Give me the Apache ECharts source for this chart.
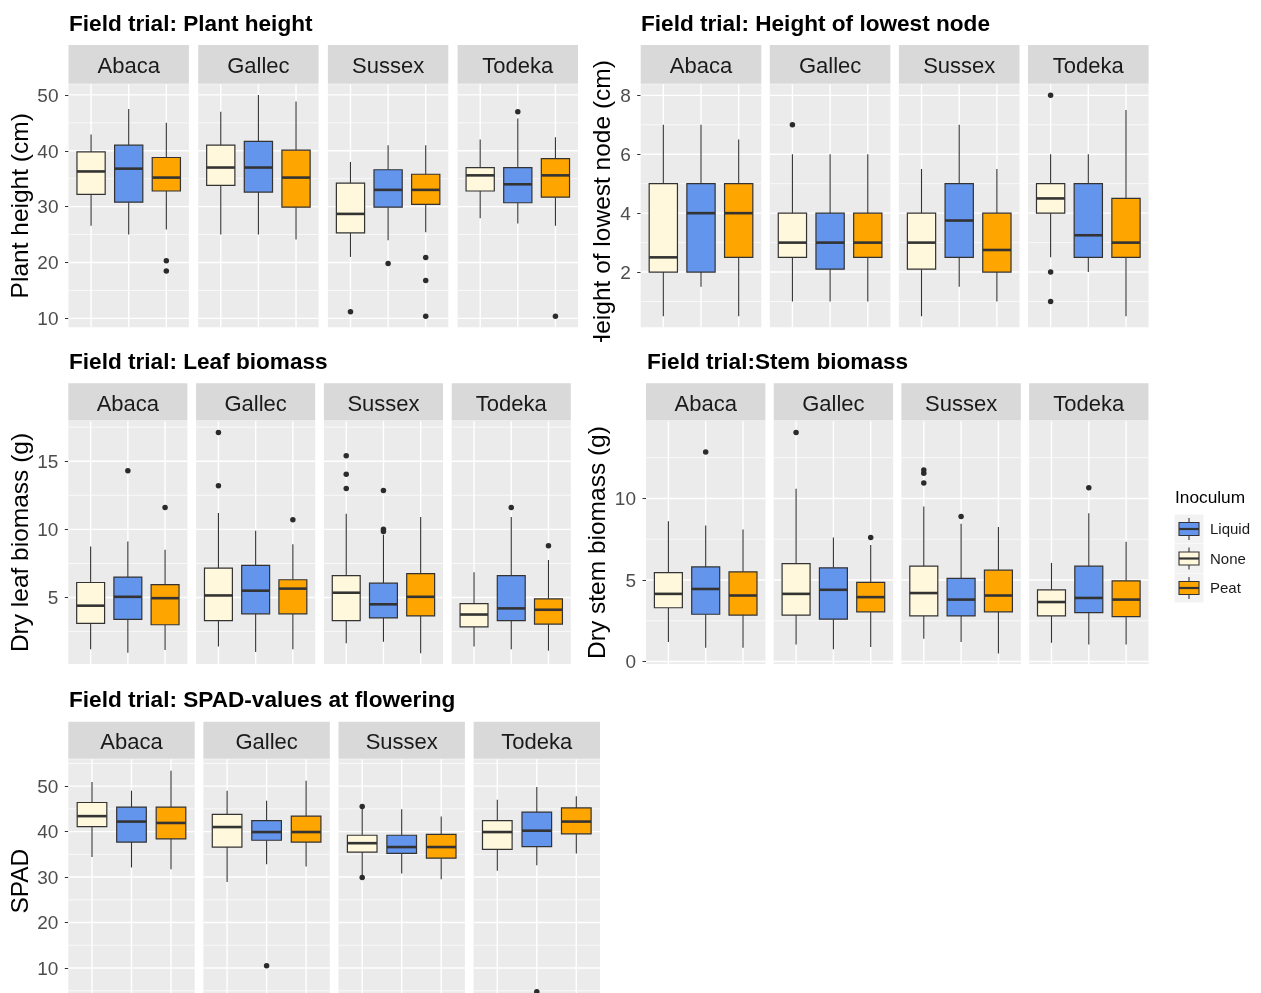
<!DOCTYPE html>
<html>
<head>
<meta charset="utf-8">
<script src="https://cdn.jsdelivr.net/npm/echarts@6/dist/echarts.min.js"></script>
<style>
  html, body { margin: 0; padding: 0; background: #ffffff; }
  #chart { width: 1261px; height: 993px; }
</style>
</head>
<body>
<div id="chart"></div>
<script>
// ---- Data -------------------------------------------------------------
const facetNames = ['Abaca', 'Gallec', 'Sussex', 'Todeka'];
const inoculumOrder = ['None', 'Liquid', 'Peat'];     // left to right inside each facet
const legendOrder = ['Liquid', 'None', 'Peat'];

// Box statistics: [lower whisker, Q1, median, Q3, upper whisker], per facet x inoculum
const plantHeightBoxes = [
  [[26.6, 32.2, 36.3, 39.8, 42.9], [25.0, 30.8, 36.8, 41.0, 47.5], [25.9, 32.8, 35.2, 38.8, 45.0]],
  [[25.0, 33.8, 37.0, 41.0, 47.0], [25.0, 32.6, 37.0, 41.7, 50.0], [24.1, 29.9, 35.2, 40.1, 48.8]],
  [[21.0, 25.3, 28.7, 34.2, 38.0], [24.0, 29.9, 33.0, 36.6, 41.0], [25.4, 30.4, 33.0, 35.8, 41.0]],
  [[27.9, 32.8, 35.6, 37.0, 42.0], [27.0, 30.7, 34.0, 37.0, 45.8], [26.6, 31.7, 35.6, 38.6, 42.4]]
];
const plantHeightOutliers = [
  [[], [], [20.3, 18.5]],
  [[], [], []],
  [[11.2], [19.8], [20.9, 16.8, 10.4]],
  [[], [47.0], [10.4]]
];
const plantHeightTicks = [10, 20, 30, 40, 50];

const nodeHeightBoxes = [
  [[0.5, 2.0, 2.5, 5.0, 7.0], [1.5, 2.0, 4.0, 5.0, 7.0], [0.5, 2.5, 4.0, 5.0, 6.5]],
  [[1.0, 2.5, 3.0, 4.0, 6.0], [1.0, 2.1, 3.0, 4.0, 6.0], [1.0, 2.5, 3.0, 4.0, 6.0]],
  [[0.5, 2.1, 3.0, 4.0, 5.5], [1.5, 2.5, 3.75, 5.0, 7.0], [1.0, 2.0, 2.75, 4.0, 5.5]],
  [[2.5, 4.0, 4.5, 5.0, 6.0], [2.0, 2.5, 3.25, 5.0, 6.0], [0.5, 2.5, 3.0, 4.5, 7.5]]
];
const nodeHeightOutliers = [
  [[], [], []],
  [[7.0], [], []],
  [[], [], []],
  [[8.0, 2.0, 1.0], [], []]
];
const nodeHeightTicks = [2, 4, 6, 8];

const leafBiomassBoxes = [
  [[1.2, 3.1, 4.4, 6.1, 8.75], [0.95, 3.4, 5.05, 6.5, 9.1], [1.15, 3.0, 4.95, 5.95, 8.5]],
  [[1.4, 3.3, 5.15, 7.15, 11.2], [1.0, 3.8, 5.5, 7.35, 9.9], [1.2, 3.8, 5.65, 6.3, 8.9]],
  [[1.65, 3.3, 5.35, 6.6, 11.15], [1.75, 3.5, 4.5, 6.05, 9.6], [0.9, 3.65, 5.05, 6.75, 10.9]],
  [[1.4, 2.85, 3.75, 4.55, 6.85], [1.2, 3.3, 4.2, 6.6, 10.9], [1.1, 3.05, 4.1, 4.9, 7.75]]
];
const leafBiomassOutliers = [
  [[], [14.3], [11.6]],
  [[17.1, 13.2], [], [10.7]],
  [[15.4, 14.05, 13.0], [12.85, 10.0, 9.85], []],
  [[], [11.6], [8.8]]
];
const leafBiomassTicks = [5, 10, 15];

const stemBiomassBoxes = [
  [[1.2, 3.3, 4.15, 5.45, 8.6], [0.85, 2.9, 4.45, 5.8, 8.35], [0.85, 2.85, 4.05, 5.5, 8.1]],
  [[1.05, 2.85, 4.15, 6.0, 10.6], [0.75, 2.6, 4.4, 5.75, 7.6], [0.9, 3.05, 3.95, 4.85, 7.15]],
  [[1.4, 2.8, 4.2, 5.85, 9.5], [1.2, 2.8, 3.8, 5.1, 8.45], [0.5, 3.05, 4.05, 5.6, 8.25]],
  [[1.15, 2.8, 3.65, 4.4, 6.05], [1.05, 3.0, 3.9, 5.85, 9.1], [1.05, 2.75, 3.8, 4.95, 7.35]]
];
const stemBiomassOutliers = [
  [[], [12.85], []],
  [[14.05], [], [7.6]],
  [[11.75, 11.55, 10.95], [8.9], []],
  [[], [10.65], []]
];
const stemBiomassTicks = [0, 5, 10];

const spadBoxes = [
  [[34.4, 41.1, 43.4, 46.4, 50.9], [32.1, 37.7, 42.2, 45.4, 49.0], [31.7, 38.4, 41.9, 45.4, 53.4]],
  [[28.9, 36.6, 41.0, 43.8, 49.0], [32.8, 38.1, 39.9, 42.4, 46.8], [32.3, 37.7, 39.9, 43.4, 51.2]],
  [[30.4, 35.5, 37.45, 39.2, 45.0], [30.8, 35.2, 36.6, 39.2, 44.9], [29.5, 34.15, 36.6, 39.4, 43.3]],
  [[31.4, 36.1, 39.9, 42.4, 47.0], [32.6, 36.7, 40.2, 44.3, 49.8], [35.2, 39.5, 42.2, 45.2, 47.8]]
];
const spadOutliers = [
  [[], [], []],
  [[], [10.5], []],
  [[45.5, 29.9], [], []],
  [[], [4.8], []]
];
const spadTicks = [10, 20, 30, 40, 50];

// ---- Styling & layout -------------------------------------------------
const FONT = '"Liberation Sans", Arial, Helvetica, sans-serif';
const fillColors = { None: '#FFF8DC', Liquid: '#6495ED', Peat: '#FFA500' };
const INK = '#333333';

const panels = [
  { title: 'Field trial: Plant height', yName: 'Plant height (cm)',
    boxes: plantHeightBoxes, outliers: plantHeightOutliers, ticks: plantHeightTicks, range: [8.4, 51.9],
    titleX: 69, titleY: 25, left: 68.5, width: 120.4, gap: 9.3, stripTop: 45, top: 84.3, height: 243, nameGap: 32 },
  { title: 'Field trial: Height of lowest node', yName: 'Height of lowest node (cm)',
    boxes: nodeHeightBoxes, outliers: nodeHeightOutliers, ticks: nodeHeightTicks, range: [0.125, 8.375],
    titleX: 641, titleY: 25, left: 640.7, width: 120.6, gap: 8.5, stripTop: 45, top: 84.3, height: 243, nameGap: 22 },
  { title: 'Field trial: Leaf biomass', yName: 'Dry leaf biomass (g)',
    boxes: leafBiomassBoxes, outliers: leafBiomassOutliers, ticks: leafBiomassTicks, range: [0.12, 17.95],
    titleX: 69, titleY: 363, left: 68.3, width: 119.1, gap: 8.7, stripTop: 383.3, top: 421, height: 243, nameGap: 32 },
  { title: 'Field trial:Stem biomass', yName: 'Dry stem biomass (g)',
    boxes: stemBiomassBoxes, outliers: stemBiomassOutliers, ticks: stemBiomassTicks, range: [-0.15, 14.75],
    titleX: 647, titleY: 363, left: 646, width: 119.4, gap: 8.3, stripTop: 383.3, top: 421, height: 243, nameGap: 32 },
  { title: 'Field trial: SPAD-values at flowering', yName: 'SPAD',
    boxes: spadBoxes, outliers: spadOutliers, ticks: spadTicks, range: [2.3, 55.9],
    titleX: 69, titleY: 701, left: 68.3, width: 126.4, gap: 8.7, stripTop: 721.7, top: 759.3, height: 243.7, nameGap: 32 }
];

// Minor breaks sit halfway between major breaks (one step beyond each end too)
function minorBreaks(ticks, range) {
  const step = ticks[1] - ticks[0];
  const out = [];
  for (let v = ticks[0] - step / 2; v <= ticks[ticks.length - 1] + step; v += step) {
    if (v > range[0] && v < range[1]) out.push(v);
  }
  return out;
}

function renderGridLine(params, api) {
  const cs = params.coordSys;
  const kind = api.value(2);
  if (kind === 2) {
    const px = api.coord([api.value(0), api.value(1)])[0];
    return { type: 'line', silent: true,
      shape: { x1: px, y1: cs.y, x2: px, y2: cs.y + cs.height },
      style: { stroke: '#FFFFFF', lineWidth: 1.4 } };
  }
  const py = api.coord([api.value(0), api.value(1)])[1];
  return { type: 'line', silent: true,
    shape: { x1: cs.x, y1: py, x2: cs.x + cs.width, y2: py },
    style: { stroke: '#FFFFFF', lineWidth: kind === 0 ? 1.4 : 0.7 } };
}

function renderBox(params, api) {
  const x = api.value(0);
  const lo = api.coord([x, api.value(1)]);
  const q1 = api.coord([x, api.value(2)]);
  const md = api.coord([x, api.value(3)]);
  const q3 = api.coord([x, api.value(4)]);
  const hi = api.coord([x, api.value(5)]);
  const half = api.size([0.75, 0])[0] / 2;
  const fill = fillColors[inoculumOrder[api.value(6)]];
  const cx = lo[0];
  return {
    type: 'group',
    children: [
      { type: 'line', shape: { x1: cx, y1: q3[1], x2: cx, y2: hi[1] }, style: { stroke: INK, lineWidth: 1.1 } },
      { type: 'line', shape: { x1: cx, y1: q1[1], x2: cx, y2: lo[1] }, style: { stroke: INK, lineWidth: 1.1 } },
      { type: 'rect', shape: { x: cx - half, y: q3[1], width: half * 2, height: q1[1] - q3[1] },
        style: { fill: fill, stroke: INK, lineWidth: 1.2 } },
      { type: 'line', shape: { x1: cx - half, y1: md[1], x2: cx + half, y2: md[1] }, style: { stroke: INK, lineWidth: 2.6 } }
    ]
  };
}

const grids = [], xAxes = [], yAxes = [], series = [], graphics = [];

panels.forEach((p) => {
  graphics.push({ type: 'text', x: p.titleX, y: p.titleY, z: 10,
    style: { text: p.title, font: 'bold 22.6px ' + FONT, fill: '#000000', textVerticalAlign: 'middle' } });

  const minors = minorBreaks(p.ticks, p.range);
  const mid = (p.range[0] + p.range[1]) / 2;

  facetNames.forEach((facet, fi) => {
    const gi = grids.length;
    const left = p.left + fi * (p.width + p.gap);
    grids.push({ left: left, top: p.top, width: p.width, height: p.height,
      show: true, backgroundColor: '#EBEBEB', borderWidth: 0, containLabel: false, outerBoundsMode: 'none' });
    xAxes.push({ type: 'value', gridIndex: gi, min: 0.4, max: 3.6, show: false });
    yAxes.push({
      type: 'value', gridIndex: gi, min: p.range[0], max: p.range[1],
      splitLine: { show: false }, axisLine: { show: false },
      axisTick: { show: fi === 0, customValues: p.ticks, length: 3.5, lineStyle: { color: INK, width: 1 } },
      axisLabel: { show: fi === 0, customValues: p.ticks, margin: 10, fontSize: 19, color: '#4D4D4D',
        fontFamily: FONT, verticalAlign: 'top', lineHeight: 3 },
      name: fi === 0 ? p.yName : '', nameLocation: 'middle', nameRotate: 90, nameGap: p.nameGap,
      nameTextStyle: { fontSize: 24.5, fontFamily: FONT, color: '#000000', lineHeight: 24.5 }
    });

    // facet strip
    graphics.push({ type: 'rect', shape: { x: left, y: p.stripTop, width: p.width, height: p.top - p.stripTop - 0.6 },
      style: { fill: '#D9D9D9' } });
    graphics.push({ type: 'text', x: left + p.width / 2, y: (p.stripTop + p.top) / 2 + 2.5,
      style: { text: facet, font: '22px ' + FONT, fill: '#1A1A1A', textAlign: 'center', textVerticalAlign: 'middle' } });

    // panel grid lines
    const lineData = [];
    p.ticks.forEach((t) => lineData.push([2, t, 0]));
    minors.forEach((t) => lineData.push([2, t, 1]));
    inoculumOrder.forEach((_, k) => lineData.push([k + 1, mid, 2]));
    series.push({ type: 'custom', xAxisIndex: gi, yAxisIndex: gi, z: 1, silent: true, animation: false,
      renderItem: renderGridLine, encode: { x: 0, y: 1 }, data: lineData });

    // boxes
    const boxData = p.boxes[fi].map((s, k) => [k + 1, s[0], s[1], s[2], s[3], s[4], k]);
    series.push({ type: 'custom', name: p.title + ' ' + facet, xAxisIndex: gi, yAxisIndex: gi, z: 2, animation: false,
      renderItem: renderBox, encode: { x: 0, y: [1, 2, 3, 4, 5] }, data: boxData });

    // outliers
    const outData = [];
    p.outliers[fi].forEach((vals, k) => vals.forEach((v) => outData.push([k + 1, v])));
    series.push({ type: 'scatter', xAxisIndex: gi, yAxisIndex: gi, z: 3, animation: false, silent: true,
      symbolSize: 5.5, itemStyle: { color: '#2B2B2B', opacity: 1 }, data: outData });
  });
});

// the long node-height axis title runs off the bottom of its panel
graphics.push({ type: 'rect', z: 100, shape: { x: 585, y: 342, width: 45, height: 30 }, style: { fill: '#FFFFFF' } });

// legend
graphics.push({ type: 'text', x: 1175, y: 498, z: 10,
  style: { text: 'Inoculum', font: '17.3px ' + FONT, fill: '#000000', textVerticalAlign: 'middle' } });
legendOrder.forEach((name, i) => {
  const cy = 529 + i * 29.5;
  graphics.push({ type: 'rect', shape: { x: 1174.5, y: cy - 14.5, width: 29, height: 29 }, style: { fill: '#F2F2F2' } });
  graphics.push({ type: 'line', shape: { x1: 1189, y1: cy - 11, x2: 1189, y2: cy + 11 }, style: { stroke: INK, lineWidth: 1.1 } });
  graphics.push({ type: 'rect', shape: { x: 1179, y: cy - 6.5, width: 20, height: 13 },
    style: { fill: fillColors[name], stroke: INK, lineWidth: 1.1 } });
  graphics.push({ type: 'line', shape: { x1: 1179, y1: cy, x2: 1199, y2: cy }, style: { stroke: INK, lineWidth: 2.2 } });
  graphics.push({ type: 'text', x: 1210, y: cy + 1, z: 10,
    style: { text: name, font: '15px ' + FONT, fill: '#1A1A1A', textVerticalAlign: 'middle' } });
});

const chart = echarts.init(document.getElementById('chart'), null, { renderer: 'canvas' });
chart.setOption({
  animation: false,
  backgroundColor: '#FFFFFF',
  grid: grids,
  xAxis: xAxes,
  yAxis: yAxes,
  series: series,
  graphic: graphics
});
</script>
</body>
</html>
